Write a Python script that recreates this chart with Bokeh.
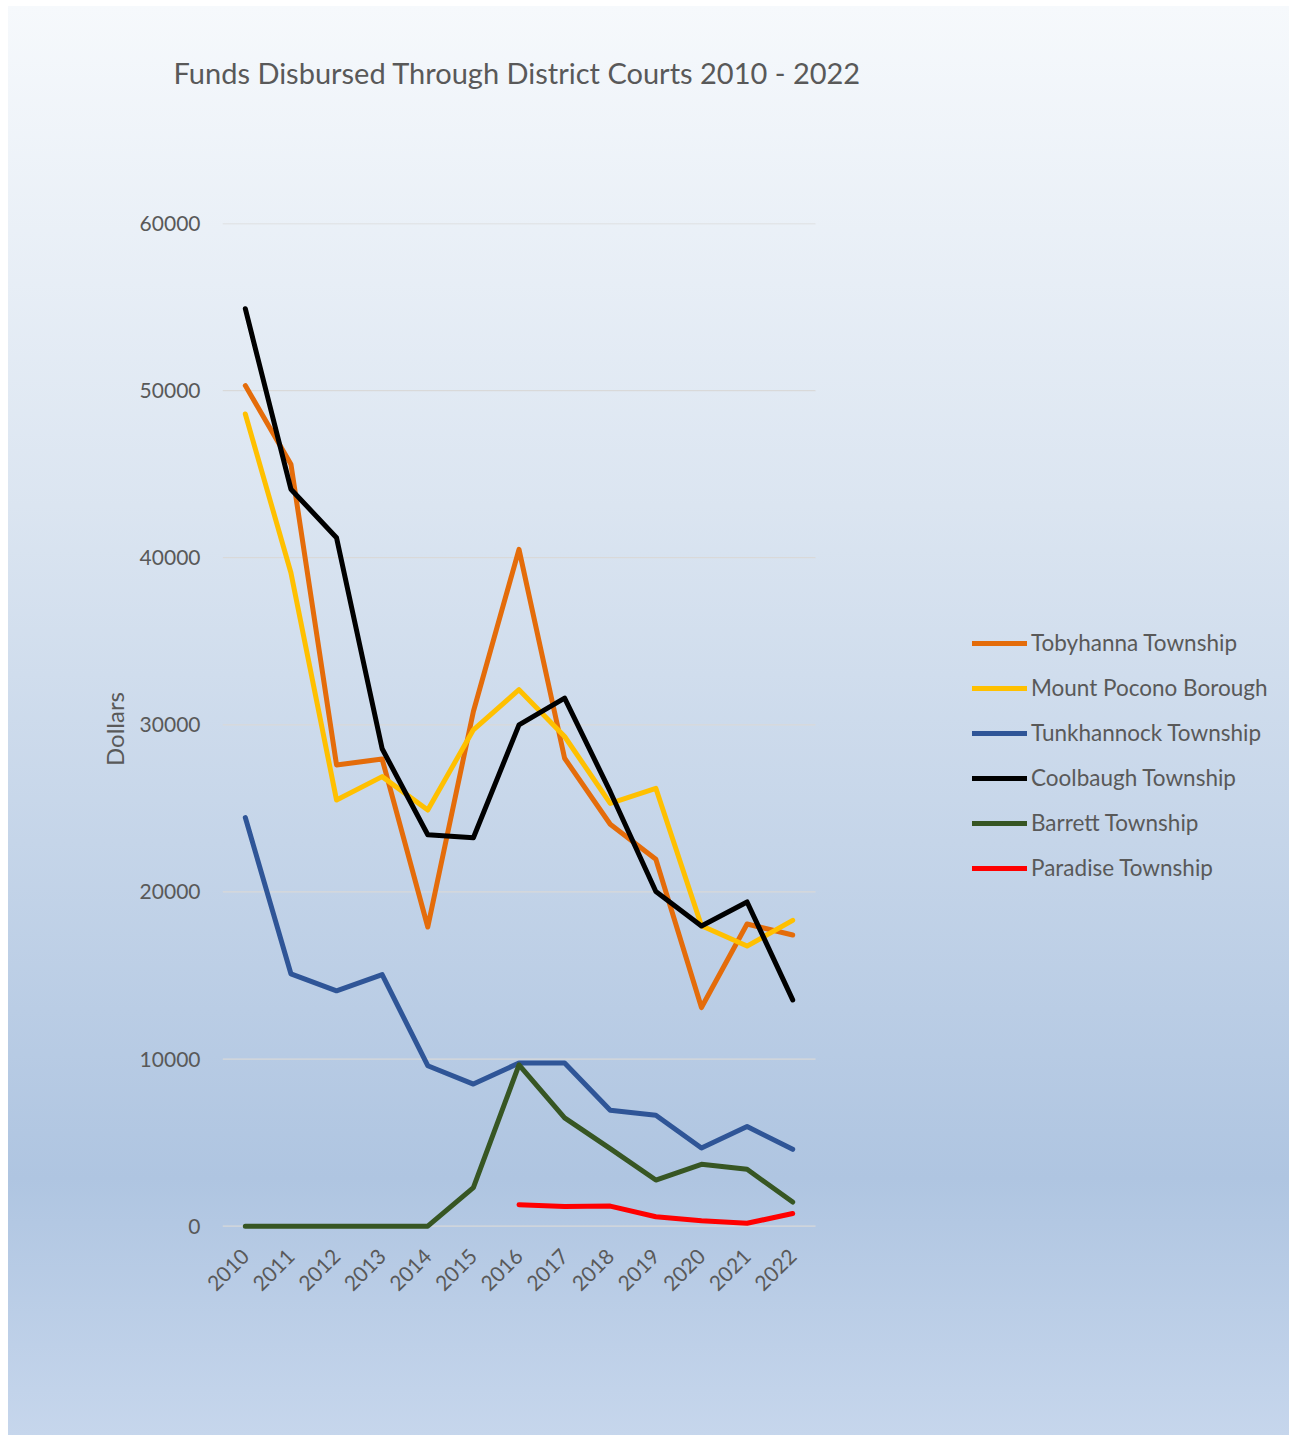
import numpy as np
from bokeh.plotting import figure
from bokeh.models import Legend, LegendItem, Range1d, FixedTicker, Title
from bokeh.embed import file_html
from bokeh.resources import INLINE

# ---------------- data ----------------
years = list(range(2010, 2023))
tobyhanna = [50300, 45600, 27600, 27950, 17900, 30800, 40500, 28000, 24050, 21950, 13080, 18080, 17420]
mount_pocono = [48600, 39100, 25500, 26900, 24900, 29700, 32100, 29300, 25300, 26200, 17980, 16760, 18300]
tunkhannock = [24450, 15100, 14080, 15050, 9600, 8500, 9760, 9760, 6930, 6640, 4680, 5960, 4600]
coolbaugh = [54900, 44100, 41200, 28570, 23420, 23240, 30000, 31600, 26000, 20030, 17960, 19400, 13540]
barrett = [0, 0, 0, 0, 0, 2300, 9650, 6480, 4640, 2760, 3700, 3400, 1440]
paradise_years = [2016, 2017, 2018, 2019, 2020, 2021, 2022]
paradise = [1280, 1180, 1200, 560, 320, 170, 760]

series_names = ["Tobyhanna Township", "Mount Pocono Borough", "Tunkhannock Township",
                "Coolbaugh Township", "Barrett Township", "Paradise Township"]
series_colors = ["#e46c0a", "#ffc000", "#2f5597", "#000000", "#375623", "#ff0000"]
y_ticks = [0, 10000, 20000, 30000, 40000, 50000, 60000]
title_text = "Funds Disbursed Through District Courts 2010 - 2022"

FONT = "Lato"
TXT = "#595959"

# ---------------- layout geometry (pixels) ----------------
FIG_W, FIG_H = 1281, 1429
LEFT, TOP, BOTTOM = 214, 217, 201
PLOT_W = 593                      # width of the plotted category band
PX_PER_YEAR = PLOT_W / 13.0
x_lo, x_hi = years[0] - 0.5, years[-1] + 0.5
x_end = x_lo + (FIG_W - LEFT) / PX_PER_YEAR   # frame continues right to hold the legend

p = figure(width=FIG_W, height=FIG_H, output_backend="svg", toolbar_location=None,
           x_range=Range1d(x_lo, x_end), y_range=Range1d(-500, 60000),
           min_border=0, min_border_left=LEFT, min_border_right=0,
           min_border_top=TOP, min_border_bottom=BOTTOM)
p.margin = (6, 0, 0, 8)

p.background_fill_alpha = 0
p.border_fill_alpha = 0
p.outline_line_color = None
p.styles = {"background": "linear-gradient(to bottom, #f6f9fc 0%, #dbe5f1 35%, #afc5e1 82%, #c6d6ec 100%)"}

# spacer between title and plot area, then the real title above it
spacer = Title(text=" ", text_font=FONT, text_font_size="29px", standoff=51)
p.add_layout(spacer, "above")
main_title = Title(text=title_text, text_font=FONT, text_font_size="29px",
                   text_font_style="normal", text_color=TXT, align="left",
                   offset=-49, standoff=92)
p.add_layout(main_title, "above")

# axes
p.xaxis.ticker = FixedTicker(ticks=years)
p.xaxis.major_label_orientation = np.pi / 4
p.yaxis.ticker = FixedTicker(ticks=y_ticks)
for ax in (p.xaxis, p.yaxis):
    ax.axis_line_color = None
    ax.major_tick_line_color = None
    ax.minor_tick_line_color = None
    ax.major_tick_in = 0
    ax.major_tick_out = 0
    ax.major_label_text_font = FONT
    ax.major_label_text_font_size = "21px"
    ax.major_label_text_color = TXT
p.yaxis.major_label_standoff = 22
p.xaxis.major_label_standoff = 18
p.yaxis.axis_label = "Dollars"
p.yaxis.axis_label_text_font = FONT
p.yaxis.axis_label_text_font_size = "24px"
p.yaxis.axis_label_text_font_style = "normal"
p.yaxis.axis_label_text_color = TXT
p.yaxis.axis_label_standoff = 8

# horizontal gridlines only across the category band
p.xgrid.grid_line_color = None
p.ygrid.grid_line_color = None
p.segment(x0=[x_lo] * len(y_ticks), x1=[x_hi] * len(y_ticks), y0=y_ticks, y1=y_ticks,
          line_color="#d9d9d9", line_width=1.3)

all_series = [(years, tobyhanna), (years, mount_pocono), (years, tunkhannock),
              (years, coolbaugh), (years, barrett), (paradise_years, paradise)]
items = []
for (xs, ys), name, col in zip(all_series, series_names, series_colors):
    r = p.line(xs, ys, line_color=col, line_width=5, line_join="round", line_cap="round")
    items.append(LegendItem(label=name, renderers=[r]))

legend = Legend(items=items, location=(750, 353))
legend.background_fill_alpha = 0
legend.border_line_color = None
legend.padding = 0
legend.margin = 0
legend.spacing = 18
legend.label_height = 20
legend.glyph_height = 20
legend.glyph_width = 55
legend.label_standoff = 4
legend.label_text_font = FONT
legend.label_text_font_size = "22.5px"
legend.label_text_color = TXT
p.add_layout(legend, "center")

open("out.html", "w").write(file_html(p, INLINE))
